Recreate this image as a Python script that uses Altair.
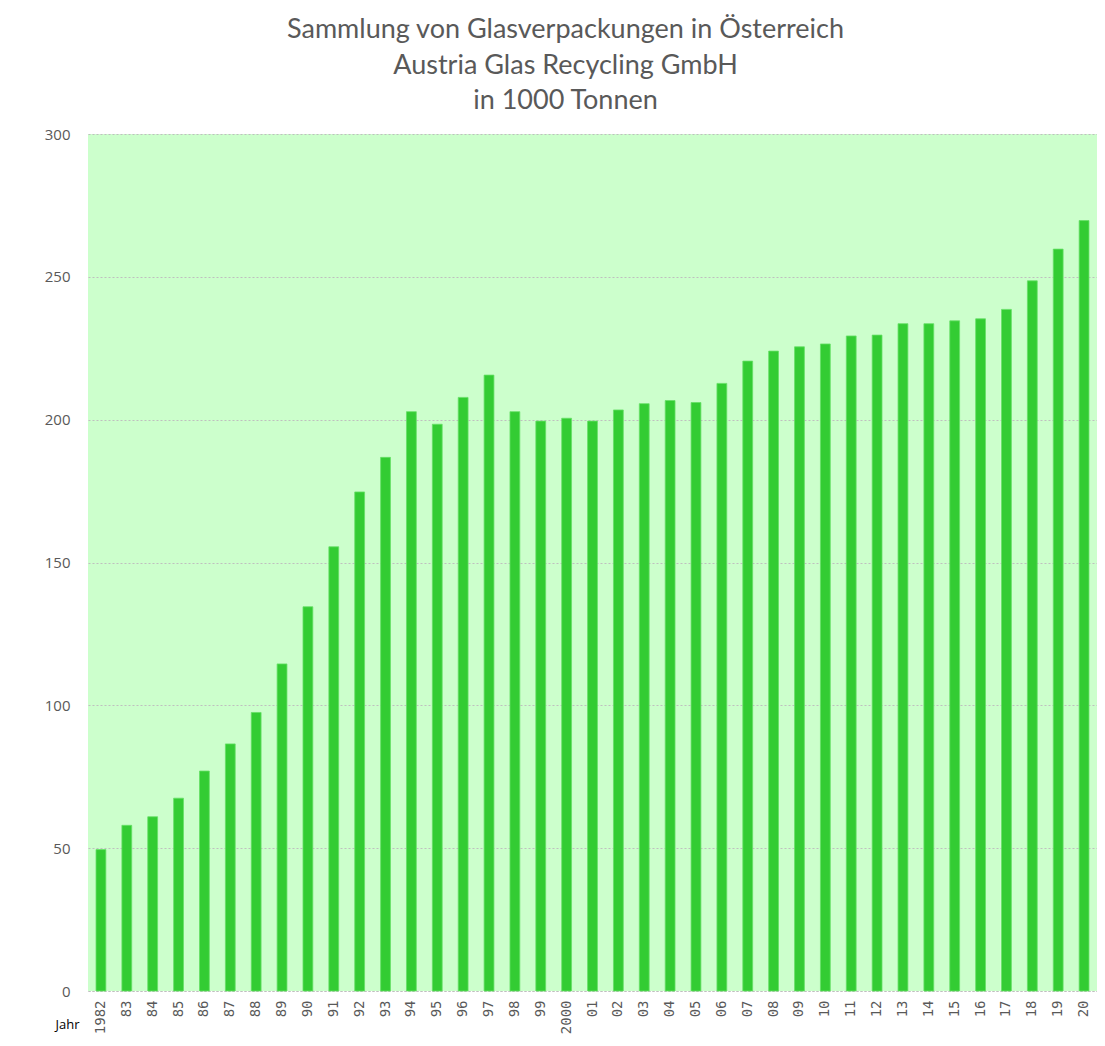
import altair as alt
import pandas as pd

years = ["1982", "83", "84", "85", "86", "87", "88", "89", "90", "91", "92", "93",
         "94", "95", "96", "97", "98", "99", "2000", "01", "02", "03", "04", "05",
         "06", "07", "08", "09", "10", "11", "12", "13", "14", "15", "16", "17",
         "18", "19", "20"]
tonnes = [49.5, 58, 61, 67.5, 77, 86.5, 97.5, 114.5, 134.5, 155.5, 174.7, 186.8,
          202.8, 198.4, 207.8, 215.6, 202.8, 199.5, 200.5, 199.5, 203.4, 205.6, 206.7, 206,
          212.7, 220.5, 224, 225.5, 226.5, 229.3, 229.6, 233.6, 233.6, 234.6, 235.3, 238.6,
          248.6, 259.7, 269.7]
title_lines = ["Sammlung von Glasverpackungen in Österreich",
               "Austria Glas Recycling GmbH",
               "in 1000 Tonnen"]

df = pd.DataFrame({"Jahr": years, "Menge": tonnes})

chart = alt.Chart(df).mark_bar(
    color="#33CC33", stroke="#66E066", strokeWidth=0.8
).encode(
    x=alt.X("Jahr:N", sort=years,
            scale=alt.Scale(paddingInner=0.62, paddingOuter=0.31),
            axis=alt.Axis(title="Jahr", labelAngle=-90, labelAlign="right",
                          labelBaseline="middle", labelFont="DejaVu Sans Mono",
                          labelFontSize=14, labelColor="#595959", labelPadding=9,
                          ticks=False, domain=True, domainColor="#BFBFBF",
                          domainDash=[2, 2], domainWidth=1,
                          titleFont="Open Sans", titleFontSize=13,
                          titleFontWeight="normal", titleColor="#000000",
                          titleAngle=0, titleAlign="center", titleBaseline="alphabetic",
                          titleX=-21, titleY=37)),
    y=alt.Y("Menge:Q",
            scale=alt.Scale(domain=[0, 300], nice=False),
            axis=alt.Axis(title=None, values=[0, 50, 100, 150, 200, 250, 300],
                          labelFont="Open Sans", labelFontSize=15,
                          labelColor="#595959", labelPadding=18, ticks=False,
                          domain=False, grid=True, gridColor="#BFBFBF",
                          gridDash=[2, 2], gridWidth=1)),
).properties(
    width=1009,
    height=857,
    background="#FFFFFF",
    title=alt.TitleParams(text=title_lines, font="Lato", fontSize=27,
                          fontWeight="normal", color="#595959", lineHeight=35.5,
                          anchor="middle", offset=12, dx=-27),
    padding={"left": 36, "top": 8, "right": 0, "bottom": 0},
).configure_view(
    fill="#CCFFCC", stroke=None
)

chart.save("out.html", embed_options={"renderer": "svg", "actions": False})
